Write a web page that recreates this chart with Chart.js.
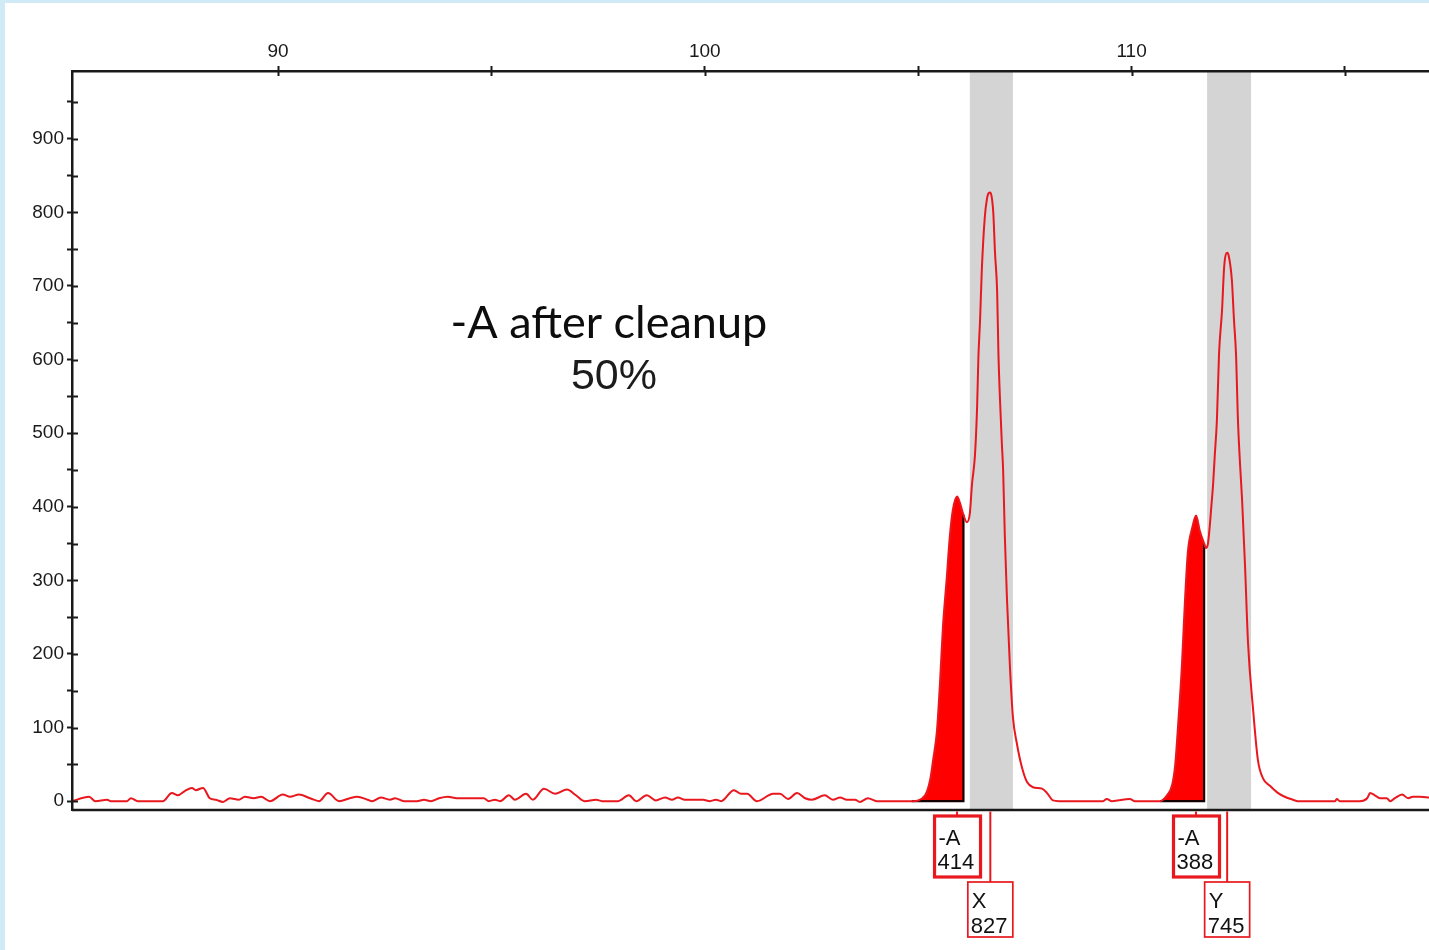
<!DOCTYPE html>
<html>
<head>
<meta charset="utf-8">
<title>-A after cleanup</title>
<script src="https://cdn.jsdelivr.net/npm/chart.js@4.4.1/dist/chart.umd.min.js"></script>
<style>
  html, body { margin: 0; padding: 0; }
  body { width: 1429px; height: 950px; background: #d0ebf5; position: relative; overflow: hidden; }
  #wrap { position: absolute; left: 5px; top: 3px; width: 1424px; height: 947px; background: #ffffff; }
  canvas { display: block; }
</style>
</head>
<body>
<div id="wrap"><canvas id="trace" width="1424" height="947"></canvas></div>
<script>
// Electropherogram trace: fragment size (bp) vs. signal (RFU)
const traceX = [
  85.17, 85.57, 85.72, 85.99, 86.08, 86.46, 86.55, 86.71, 87.30, 87.51,
  87.65, 87.82, 87.98, 88.07, 88.24, 88.40, 88.54, 88.71, 88.87, 89.08,
  89.22, 89.43, 89.60, 89.81, 90.11, 90.28, 90.49, 90.75, 90.96, 91.17,
  91.43, 91.68, 91.85, 92.10, 92.20, 92.41, 92.62, 92.74, 92.95, 93.25,
  93.42, 93.58, 93.77, 93.98, 94.19, 94.82, 94.94, 95.08, 95.20, 95.41,
  95.55, 95.81, 95.97, 96.23, 96.49, 96.77, 96.98, 97.19, 97.45, 97.59,
  97.96, 98.22, 98.39, 98.64, 98.85, 99.07, 99.23, 99.37, 99.53, 99.96,
  100.12, 100.26, 100.38, 100.68, 100.85, 100.99, 101.22, 101.60, 101.76, 101.95,
  102.16, 102.35, 102.51, 102.81, 103.00, 103.17, 103.33, 103.52, 103.63, 103.82,
  104.03, 104.85, 105.16, 105.28, 105.35, 105.44, 105.51, 105.58, 105.67, 105.74,
  105.81, 105.91, 105.98, 106.06, 106.14, 106.21, 106.26, 106.33, 106.38, 106.41,
  106.45, 106.49, 106.56, 106.61, 106.65, 106.69, 106.73, 106.76, 106.80, 106.85,
  106.88, 106.92, 106.96, 106.99, 107.03, 107.08, 107.15, 107.22, 107.31, 107.43,
  107.55, 107.69, 107.90, 108.02, 108.16, 108.30, 109.33, 109.42, 109.54, 109.96,
  110.08, 110.67, 110.83, 110.95, 111.02, 111.09, 111.18, 111.25, 111.32, 111.42,
  111.51, 111.60, 111.70, 111.74, 111.79, 111.88, 111.91, 111.95, 112.00, 112.05,
  112.12, 112.17, 112.24, 112.28, 112.35, 112.40, 112.45, 112.49, 112.54, 112.59,
  112.66, 112.73, 112.85, 112.96, 113.08, 113.24, 113.41, 113.59, 113.78, 113.90,
  114.77, 114.81, 114.88, 115.35, 115.52, 115.59, 115.70, 115.82, 115.98, 116.06,
  116.17, 116.34, 116.48, 116.59, 116.76, 116.97
];
const traceRFU = [
  0, 6, 0, 2, 0, 0, 4, 0, 0, 11,
  8, 14, 18, 15, 18, 4, 2, -1, 4, 2,
  6, 4, 6, 0, 9, 6, 9, 4, 0, 11,
  0, 4, 6, 2, 0, 5, 2, 4, 0, 0,
  2, 0, 4, 6, 4, 4, 0, 2, 0, 8,
  2, 10, 2, 17, 10, 16, 8, 0, 2, 0,
  0, 8, 0, 8, 1, 5, 2, 5, 2, 2,
  0, 2, 0, 15, 10, 10, 0, 10, 10, 3,
  11, 4, 2, 8, 2, 5, 2, 2, -1, 4,
  0, 0, 8, 29, 56, 96, 160, 237, 304, 359,
  395, 414, 405, 389, 379, 391, 430, 470, 535, 602,
  654, 721, 793, 818, 826, 827, 818, 799, 745, 692,
  608, 541, 486, 450, 360, 275, 182, 114, 79, 46,
  26, 19, 17, 11, 1, 0, 0, 3, 0, 3,
  0, 0, 8, 22, 48, 103, 185, 271, 339, 371,
  388, 367, 350, 344, 350, 408, 430, 470, 518, 608,
  667, 726, 745, 740, 708, 654, 604, 522, 460, 409,
  318, 214, 123, 56, 31, 21, 12, 6, 2, 0,
  0, 3, 0, 0, 4, 11, 8, 4, 4, 0,
  4, 9, 4, 6, 6, 5
];

// Called peaks and their labels
const peakNames   = ['-A', 'X', '-A', 'Y'];
const peakSizes   = [105.91, 106.69, 111.51, 112.24];
const peakHeights = [414, 827, 388, 745];
const peakTier    = [0, 1, 0, 1];

// Shaded (-A) areas under the trace
const shadeStart = [104.85, 110.67];
const shadeEnd   = [106.06, 111.70];

// Allele bins
const binStart = [106.21, 111.77];
const binEnd   = [107.22, 112.80];

// Axis ticks
const xMajorTicks = [90, 100, 110];
const xMinorTicks = [95, 105, 115];
const yMajorTicks = [0, 100, 200, 300, 400, 500, 600, 700, 800, 900];
const yMinorTicks = [50, 150, 250, 350, 450, 550, 650, 750, 850, 950];

const titleLines = ['-A after cleanup', '50%'];

const RED = '#e8181e';
const AXIS = '#1a1a1a';
const TICK_FONT = { family: "'Liberation Sans', Arial, sans-serif", size: 19 };

const tracePoints = traceX.map((x, i) => ({ x, y: traceRFU[i] }));

const shadeSets = shadeStart.map((s, k) => ({
  data: tracePoints.filter(p => p.x >= s && p.x <= shadeEnd[k]),
  borderWidth: 0,
  borderColor: 'rgba(0,0,0,0)',
  backgroundColor: '#ff0000',
  fill: 'origin',
  pointRadius: 0,
  cubicInterpolationMode: 'monotone',
  order: 3
}));

const shadeEdges = shadeStart.map((s, k) => {
  const e = shadeEnd[k];
  const top = tracePoints.find(p => p.x === e).y;
  return {
    data: [{ x: s, y: 0 }, { x: e, y: 0 }, { x: e, y: top }],
    borderColor: '#140000',
    borderWidth: 2.2,
    pointRadius: 0,
    fill: false,
    order: 2
  };
});

const bins = {
  id: 'bins',
  beforeDatasetsDraw(chart) {
    const { ctx, chartArea: a, scales: { x } } = chart;
    ctx.save();
    ctx.fillStyle = '#d4d4d4';
    binStart.forEach((b, i) => {
      const l = x.getPixelForValue(b);
      const r = x.getPixelForValue(binEnd[i]);
      ctx.fillRect(l, a.top, r - l, a.bottom - a.top);
    });
    ctx.restore();
  }
};

const decor = {
  id: 'decor',
  afterDraw(chart) {
    const { ctx, chartArea: a, scales: { x, y } } = chart;
    ctx.save();
    // frame line along the bottom
    ctx.strokeStyle = AXIS;
    ctx.lineWidth = 2.5;
    ctx.beginPath();
    ctx.moveTo(a.left, a.bottom);
    ctx.lineTo(a.right, a.bottom);
    ctx.stroke();
    // inner half of each tick mark
    ctx.lineWidth = 2;
    ctx.beginPath();
    y.ticks.forEach(t => {
      const py = Math.round(y.getPixelForValue(t.value)) + 0.5;
      ctx.moveTo(a.left, py);
      ctx.lineTo(a.left + 6, py);
    });
    x.ticks.forEach(t => {
      const px = Math.round(x.getPixelForValue(t.value)) + 0.5;
      ctx.moveTo(px, a.top);
      ctx.lineTo(px, a.top + 5);
    });
    ctx.stroke();

    // peak label boxes under the axis
    ctx.font = "22px 'Liberation Sans', Arial, sans-serif";
    ctx.textAlign = 'left';
    ctx.textBaseline = 'alphabetic';
    peakNames.forEach((name, i) => {
      const px = x.getPixelForValue(peakSizes[i]);
      const tier = peakTier[i];
      const top = a.bottom + (tier === 0 ? 6 : 72);
      const h = tier === 0 ? 61 : 55;
      const w = tier === 0 ? 46 : 45;
      const left = px - 22.5;
      ctx.strokeStyle = RED;
      ctx.lineWidth = 2;
      ctx.beginPath();
      ctx.moveTo(px, a.bottom + 1.5);
      ctx.lineTo(px, top);
      ctx.stroke();
      ctx.fillStyle = '#ffffff';
      ctx.fillRect(left, top, w, h);
      ctx.lineWidth = tier === 0 ? 3.2 : 1.7;
      ctx.strokeRect(left, top, w, h);
      ctx.fillStyle = '#111111';
      ctx.fillText(name, left + 4, top + (tier === 0 ? 29 : 26));
      ctx.fillText(String(peakHeights[i]), left + 3, top + (tier === 0 ? 53 : 51));
    });

    // title inside the plot
    ctx.textAlign = 'center';
    ctx.textBaseline = 'middle';
    ctx.fillStyle = '#0d0d0d';
    ctx.font = "45px Lato, 'Open Sans', sans-serif";
    ctx.fillText(titleLines[0], x.getPixelForValue(97.75), y.getPixelForValue(649));
    ctx.fillStyle = '#1c1c1c';
    ctx.font = "43px 'Liberation Sans', Arial, sans-serif";
    ctx.fillText(titleLines[1], x.getPixelForValue(97.87), y.getPixelForValue(576));
    ctx.restore();
  }
};

new Chart(document.getElementById('trace'), {
  type: 'line',
  data: {
    datasets: [
      {
        data: tracePoints,
        borderColor: RED,
        borderWidth: 2,
        pointRadius: 0,
        fill: false,
        cubicInterpolationMode: 'monotone',
        order: 1
      },
      ...shadeEdges,
      ...shadeSets
    ]
  },
  options: {
    responsive: false,
    animation: false,
    events: [],
    layout: { padding: { left: 0, top: 0, right: 0, bottom: 140 } },
    plugins: { legend: { display: false }, tooltip: { enabled: false } },
    scales: {
      x: {
        type: 'linear',
        position: 'top',
        min: 85.17,
        max: 116.97,
        afterFit(scale) { scale.height = 68; },
        afterBuildTicks(scale) {
          scale.ticks = [...xMajorTicks, ...xMinorTicks].sort((a, b) => a - b).map(v => ({ value: v }));
        },
        ticks: {
          autoSkip: false,
          maxRotation: 0,
          padding: 3,
          color: AXIS,
          font: TICK_FONT,
          callback: v => xMajorTicks.includes(v) ? String(v) : ''
        },
        grid: { drawOnChartArea: false, drawTicks: true, tickLength: 5, tickWidth: 2, tickColor: AXIS },
        border: { display: true, color: AXIS, width: 2.5, z: 1 }
      },
      y: {
        type: 'linear',
        position: 'left',
        min: -12,
        max: 992,
        afterFit(scale) { scale.width = 67; },
        afterBuildTicks(scale) {
          scale.ticks = [...yMajorTicks, ...yMinorTicks].sort((a, b) => a - b).map(v => ({ value: v }));
        },
        ticks: {
          autoSkip: false,
          padding: 3,
          color: AXIS,
          font: TICK_FONT,
          callback: v => yMajorTicks.includes(v) ? String(v) : ''
        },
        grid: { drawOnChartArea: false, drawTicks: true, tickLength: 5, tickWidth: 2, tickColor: AXIS },
        border: { display: true, color: AXIS, width: 2.5, z: 1 }
      }
    }
  },
  plugins: [bins, decor]
});
</script>
</body>
</html>
